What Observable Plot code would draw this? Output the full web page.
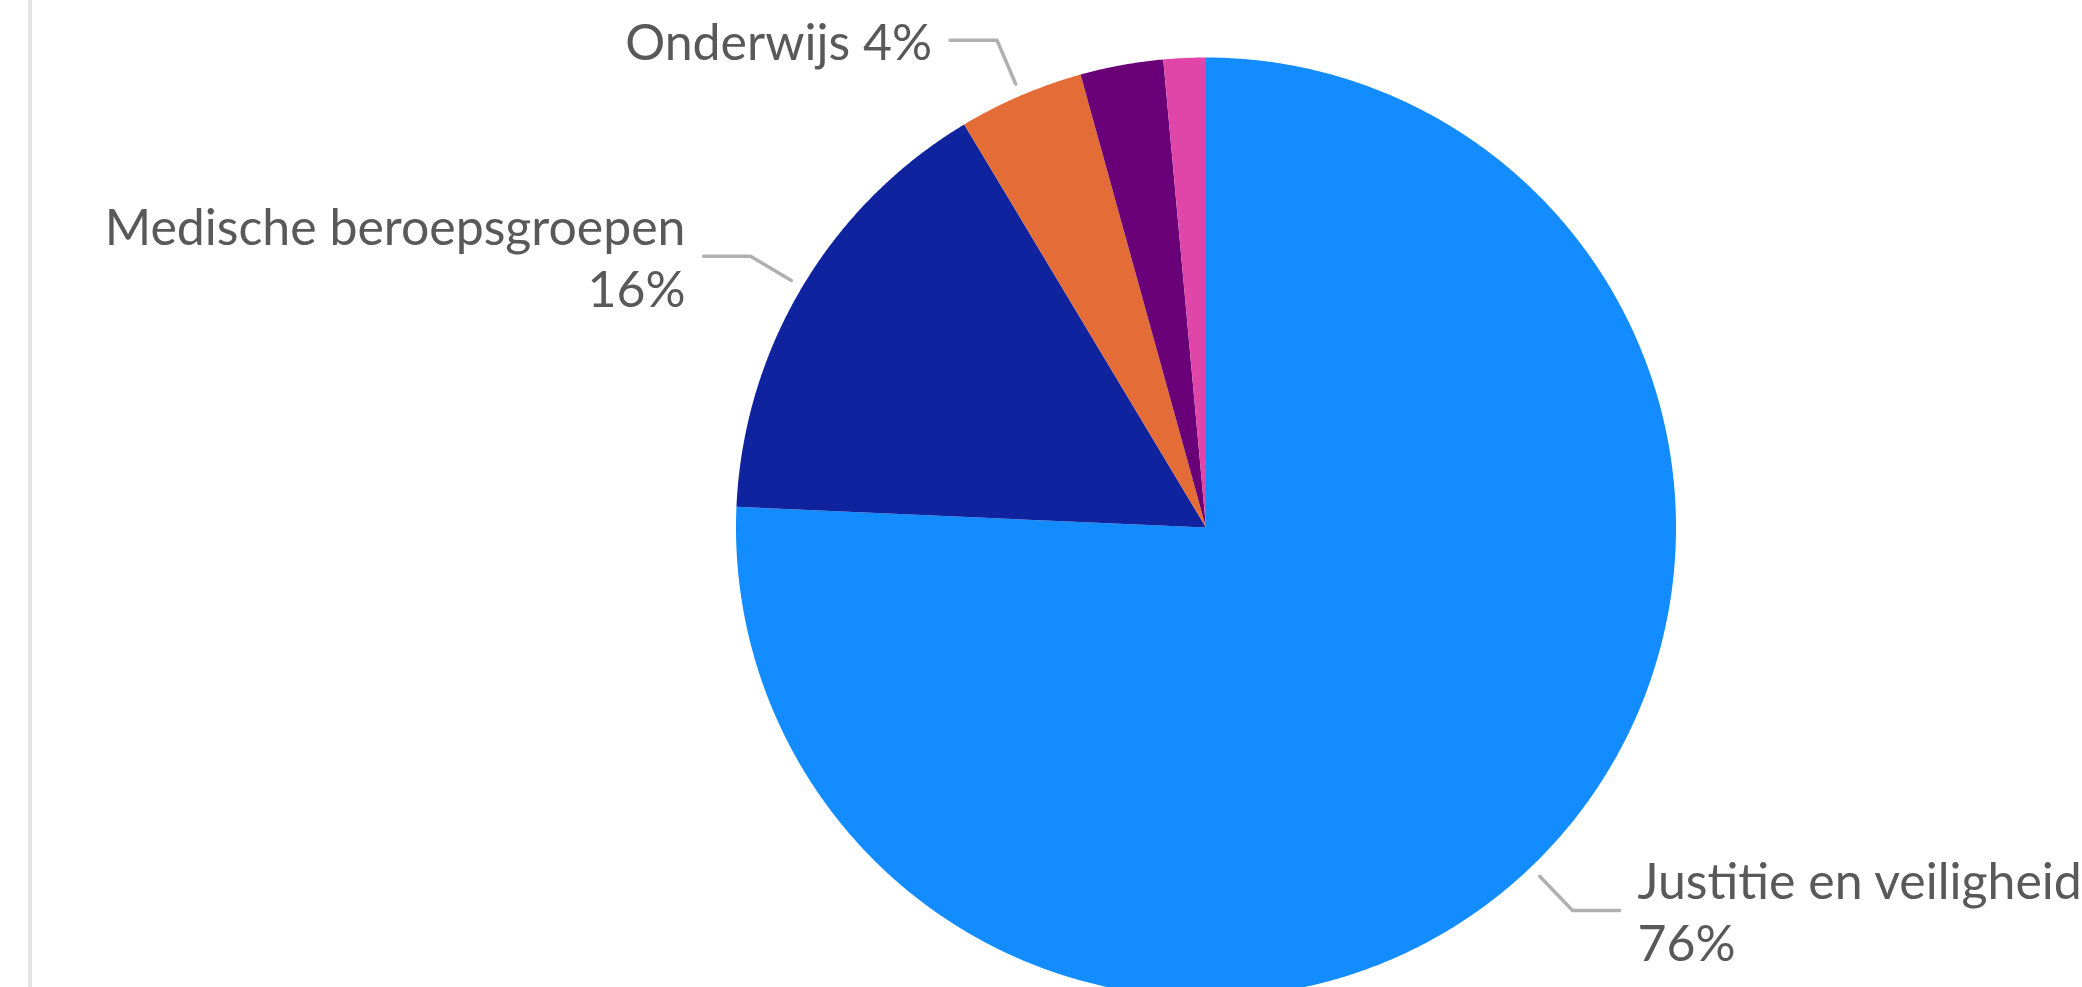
<!DOCTYPE html>
<html><head><meta charset="utf-8">
<script src="https://cdn.jsdelivr.net/npm/d3@7"></script>
<script src="https://cdn.jsdelivr.net/npm/@observablehq/plot@0.6"></script>
<style>
html,body{margin:0;padding:0;background:#fff;overflow:hidden;width:2082px;height:987px;}
#wrap{position:relative;width:2082px;height:987px;}
#frame{position:absolute;left:28px;top:0;width:4px;height:987px;background:#e3e3e3;}
svg{display:block}
</style></head><body><div id="wrap"><div id="chart"></div><div id="frame"></div></div>
<script>
// Data
const categories = ["Justitie en veiligheid", "Medische beroepsgroepen", "Onderwijs", "Overig", "Onbekend"];
const values = [75.7, 15.7, 4.3, 2.85, 1.45];
const colors = ["#128cff", "#10239e", "#e46c36", "#6a0078", "#e046a8"];
const showLabel = [true, true, true, false, false];
const wrapLabel = [true, true, false, false, false];

const total = d3.sum(values);
const rows = categories.map((name, i) => ({name, value: values[i], i}));
const arcs = d3.pie().sort(null).value(d => d.value)(rows);

// slice outlines (polygons) derived from pie angles
const slicePts = [];
for (const a of arcs) {
  const n = Math.max(2, Math.ceil((a.endAngle - a.startAngle) / (Math.PI / 720)));
  slicePts.push({name: a.data.name, x: 0, y: 0});
  for (let k = 0; k <= n; k++) {
    const t = a.startAngle + (a.endAngle - a.startAngle) * k / n;
    slicePts.push({name: a.data.name, x: Math.sin(t), y: Math.cos(t)});
  }
  slicePts.push({name: a.data.name, x: 0, y: 0});
}

// leader lines + labels
const R0 = 1.027, R1 = 1.128, H = 0.1;
const leaderPts = [], labels = [];
for (const a of arcs) {
  const i = a.data.i;
  if (!showLabel[i]) continue;
  const m = (a.startAngle + a.endAngle) / 2;
  const side = Math.sin(m) >= 0 ? 1 : -1;
  const ex = R1 * Math.sin(m), ey = R1 * Math.cos(m);
  leaderPts.push({name: a.data.name, x: R0 * Math.sin(m), y: R0 * Math.cos(m)});
  leaderPts.push({name: a.data.name, x: ex, y: ey});
  leaderPts.push({name: a.data.name, x: ex + side * H, y: ey});
  const pct = Math.round(a.data.value / total * 100) + "%";
  labels.push({
    x: ex + side * H, y: ey, side,
    text: a.data.name + (wrapLabel[i] ? "\n" : " ") + pct
  });
}

const font = "Lato";
const fs = 50;
const textOpts = {x: "x", y: "y", text: "text", fill: "#595959", fontFamily: font, fontSize: fs, lineHeight: 1.24, lineAnchor: "middle"};

const chart = Plot.plot({
  width: 2082, height: 987,
  margin: 0,
  style: {background: "transparent", overflow: "hidden"},
  x: {domain: [-1, 1], range: [735.5, 1675.5], axis: null},
  y: {domain: [-1, 1], range: [997, 57], axis: null},
  color: {domain: categories, range: colors},
  marks: [
    Plot.line(slicePts, {x: "x", y: "y", z: "name", fill: "name", stroke: "none", curve: "linear"}),
    Plot.line(leaderPts, {x: "x", y: "y", z: "name", stroke: "#b0b0b0", strokeWidth: 3.5, curve: "linear"}),
    Plot.text(labels.filter(d => d.side < 0), {...textOpts, textAnchor: "end", dx: -18}),
    Plot.text(labels.filter(d => d.side > 0), {...textOpts, textAnchor: "start", dx: 18})
  ]
});
document.getElementById("chart").append(chart);
</script>
</body></html>
